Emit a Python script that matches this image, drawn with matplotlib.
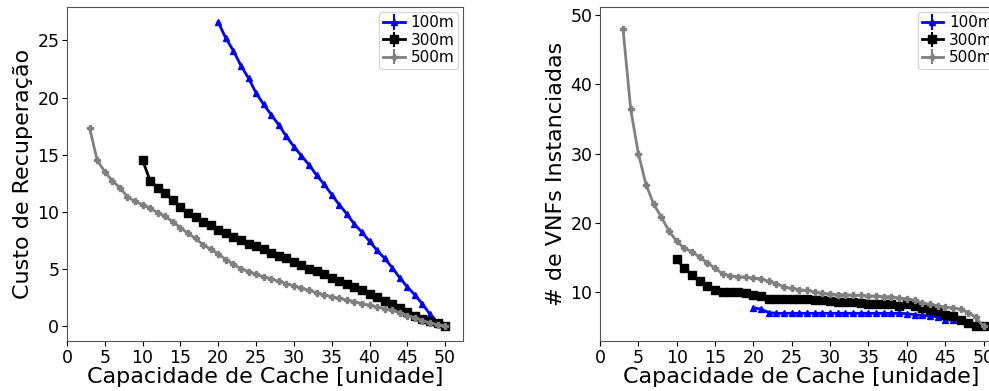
import numpy as np
import matplotlib
matplotlib.use('Agg')
import matplotlib.pyplot as plt

# cache capacity (x) per series
x_100 = np.arange(20, 51)
x_300 = np.arange(10, 51)
x_500 = np.arange(3, 51)

# recovery cost (left panel)
cost_100 = [26.6, 25.2, 24.1, 22.8, 21.7, 20.4, 19.4, 18.5, 17.6, 16.6,
            15.7, 14.9, 14.1, 13.2, 12.4, 11.5, 10.6, 9.8, 8.9, 8.2,
            7.4, 6.6, 5.9, 5.1, 4.2, 3.4, 2.7, 1.9, 1.0, 0.3, 0.0]
cost_300 = [14.5, 12.7, 12.1, 11.6, 11.0, 10.4, 9.9, 9.5, 9.1, 8.8,
            8.4, 8.1, 7.8, 7.5, 7.2, 6.95, 6.7, 6.4, 6.1, 5.9,
            5.6, 5.3, 5.0, 4.8, 4.5, 4.2, 3.9, 3.7, 3.4, 3.1,
            2.8, 2.5, 2.2, 1.9, 1.6, 1.2, 0.9, 0.6, 0.4, 0.2, 0.0]
cost_500 = [17.3, 14.5, 13.5, 12.7, 12.1, 11.3, 10.9, 10.6, 10.3, 9.9,
            9.6, 9.1, 8.6, 8.1, 7.65, 7.1, 6.7, 6.3, 5.8, 5.4,
            5.0, 4.75, 4.5, 4.3, 4.1, 3.9, 3.7, 3.5, 3.3, 3.1,
            2.9, 2.7, 2.55, 2.4, 2.25, 2.1, 1.95, 1.8, 1.65, 1.5,
            1.35, 1.15, 0.9, 0.7, 0.45, 0.25, 0.1, 0.0]

# number of instantiated VNFs (right panel)
vnf_100 = [7.7, 7.5, 7.0] + [6.9] * 17 + [6.85, 6.7, 6.6, 6.5, 6.4, 6.0,
                                          5.9, 5.9, 5.6, 5.3, 5.0]
vnf_300 = [14.7, 13.4, 12.5, 11.5, 10.9, 10.2, 10.0, 10.0, 10.0, 9.9,
           9.6, 9.4, 9.0, 8.9, 9.0, 9.0, 9.0, 8.9, 8.8, 8.8,
           8.7, 8.5, 8.5, 8.5, 8.4, 8.3, 8.3, 8.2, 8.2, 7.9,
           8.2, 8.0, 7.7, 7.4, 7.2, 6.7, 6.5, 6.0, 5.5, 5.1, 5.0]
vnf_500 = [48.0, 36.4, 30.0, 25.5, 22.7, 20.8, 18.8, 17.3, 16.3, 15.8,
           15.0, 14.2, 13.4, 12.6, 12.3, 12.2, 12.15, 12.0, 11.9, 11.5,
           11.2, 10.7, 10.5, 10.3, 10.2, 10.0, 9.8, 9.7, 9.6, 9.6,
           9.5, 9.5, 9.4, 9.4, 9.3, 9.3, 9.1, 9.0, 8.8, 8.4,
           8.2, 8.0, 7.8, 7.7, 7.5, 7.0, 6.3, 5.0]

labels = ['100m', '300m', '500m']
styles = [('blue', '^', 5), ('black', 's', 5.5), ('grey', 'P', 5)]

fig = plt.figure(figsize=(9.89, 3.91), dpi=100)
ax1 = fig.add_axes([0.0677, 0.128, 0.4004, 0.854])
ax2 = fig.add_axes([0.6067, 0.128, 0.4060, 0.854])

def draw(ax, series, ylabel):
    for (x, y), lab, (c, m, ms) in zip(series, labels, styles):
        ax.errorbar(x, y, yerr=np.zeros(len(y)), color=c, marker=m,
                    ms=ms, lw=2, elinewidth=1.5, label=lab)
    ax.set_xlim(0, 52.35)
    ax.set_xticks(range(0, 51, 5))
    ax.tick_params(labelsize=12.5, pad=2)
    ax.set_xlabel('Capacidade de Cache [unidade]', fontsize=16, labelpad=0)
    ax.set_ylabel(ylabel, fontsize=16, labelpad=3)
    ax.legend(loc='upper right', fontsize=11, handlelength=1.4,
              borderpad=0.25, labelspacing=0.15, handletextpad=0.4,
              borderaxespad=0.3)
    for s in ax.spines.values():
        s.set_color('#555555')

draw(ax1, [(x_100, cost_100), (x_300, cost_300), (x_500, cost_500)],
     'Custo de Recuperação')
draw(ax2, [(x_100, vnf_100), (x_300, vnf_300), (x_500, vnf_500)],
     '# de VNFs Instanciadas')
ax2.set_ylim(2.9, 51.2)
ax2.set_yticks([10, 20, 30, 40, 50])

fig.savefig('out.png', dpi=100)
